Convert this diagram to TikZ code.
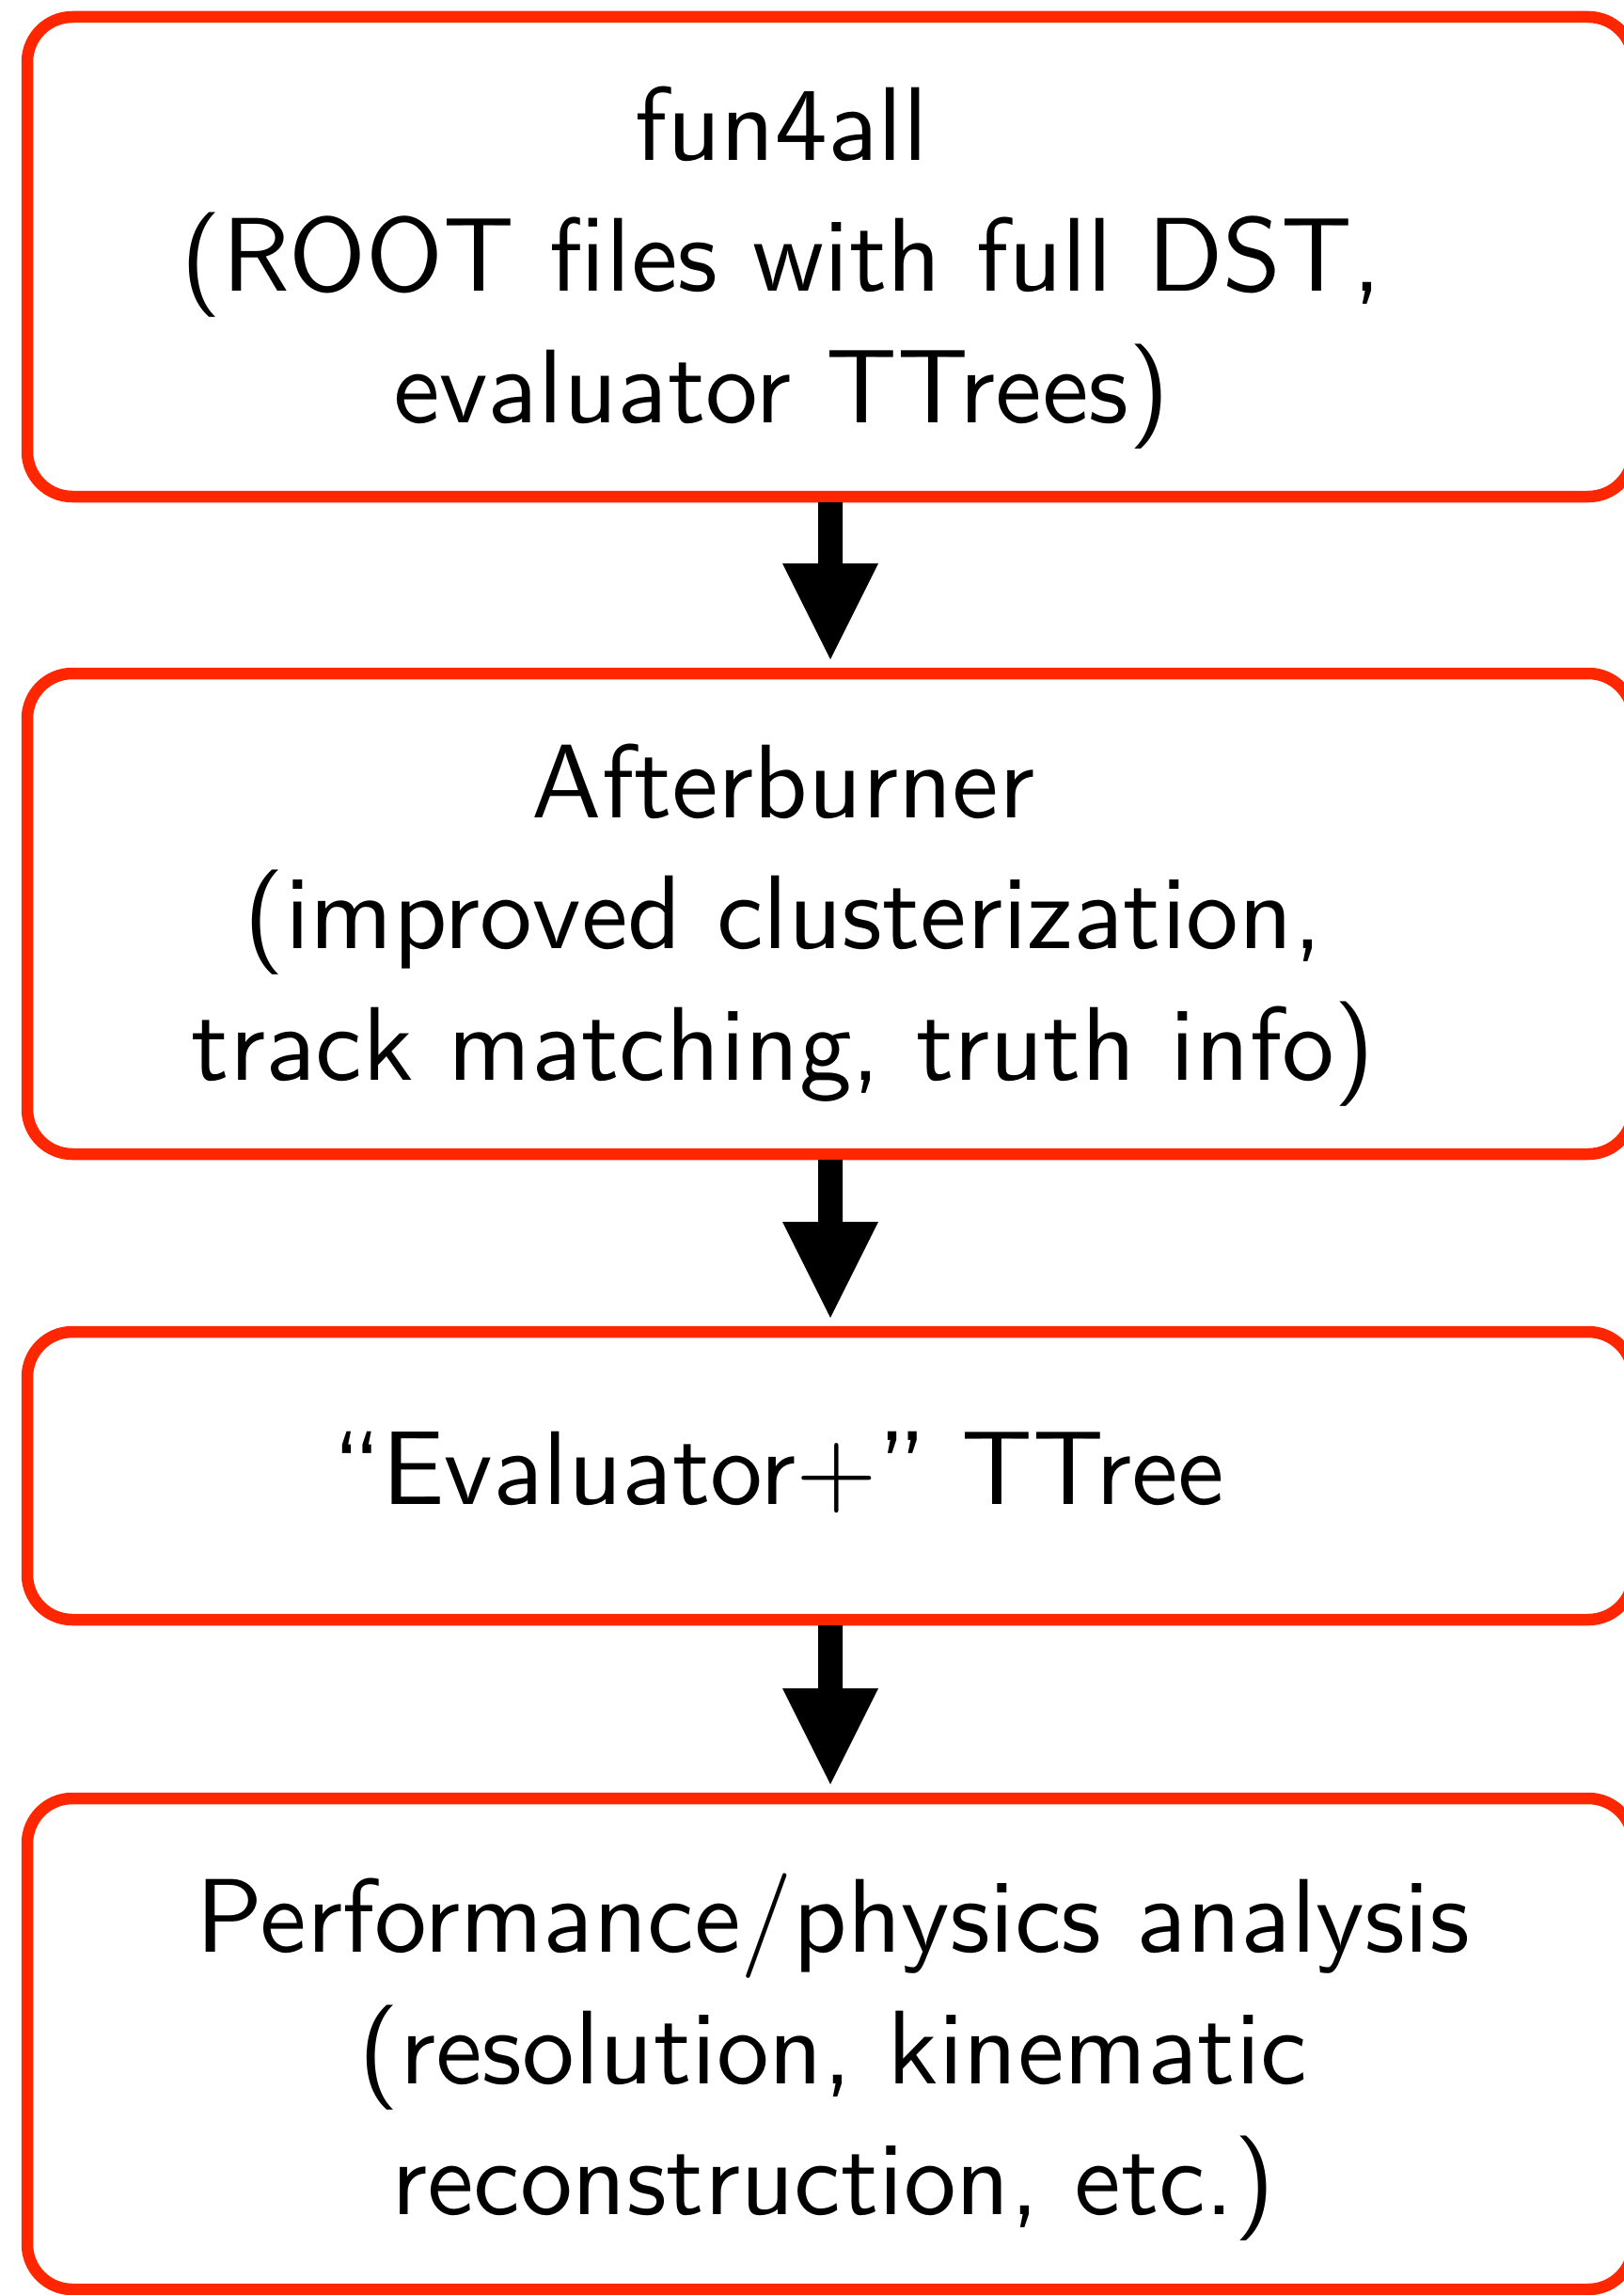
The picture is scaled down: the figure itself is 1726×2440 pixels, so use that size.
\documentclass[tikz,border=0pt]{standalone}
\usepackage{fontspec}
\newfontfamily\boxfont{lmsans10-regular.otf}
\usetikzlibrary{calc}
\definecolor{boxred}{RGB}{255,38,0}

% block arrow from the bottom of one box to the top of the next
\newcommand{\flowarrow}[2]{%
  \fill[arrowfill]
    ($(#1.south)+(-13,6)$) -- ($(#1.south)+(13,6)$) --
    ($(#2.north)+(13,-117)$) -- ($(#2.north)+(51,-117)$) --
    ($(#2.north)+(0,-15)$) --
    ($(#2.north)+(-51,-117)$) -- ($(#2.north)+(-13,-117)$) -- cycle;}

\begin{document}
\begin{tikzpicture}[x=0.25pt,y=-0.25pt,
  stagebox/.style={rectangle, draw=boxred, line width=3.125pt,
    rounded corners=12pt, outer sep=0pt, inner sep=0pt,
    minimum width=427pt},
  boxtext/.style={inner sep=0pt, outer sep=0pt, align=center,
    font=\boxfont\fontsize{27.85pt}{34.875pt}\selectfont},
  arrowfill/.style={black}]
\useasboundingbox (0,0) rectangle (1726,2440);

% stage boxes
\node[stagebox, minimum height=127.5pt]  (b1) at (883,273) {};
\node[stagebox, minimum height=127.75pt] (b2) at (883,971.5) {};
\node[stagebox, minimum height=76.5pt]   (b3) at (883,1569) {};
\node[stagebox, minimum height=130.5pt]  (b4) at (883,2173) {};

% stage descriptions
\node[boxtext] (t1) at (831,284.6) {fun4all\\(ROOT files with full DST,\\evaluator TTrees)};
\node[boxtext] (t2) at (833,983.6) {Afterburner\\(improved clusterization,\\track matching, truth info)};
\node[boxtext] (t3) at (828,1565) {“Evaluator+” TTree};
\node[boxtext] (t4) at (886,2187.5) {Performance/physics analysis\\(resolution, kinematic\\reconstruction, etc.)};

% flow
\flowarrow{b1}{b2}
\flowarrow{b2}{b3}
\flowarrow{b3}{b4}
\end{tikzpicture}
\end{document}
